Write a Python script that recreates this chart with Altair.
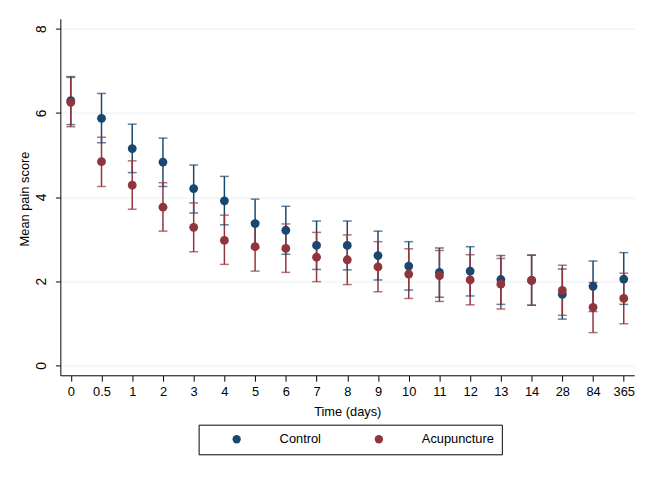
import altair as alt
import pandas as pd

times = ["0", "0.5", "1", "2", "3", "4", "5", "6", "7", "8", "9", "10",
         "11", "12", "13", "14", "28", "84", "365"]

control_mean = [6.29, 5.87, 5.15, 4.83, 4.20, 3.91, 3.37, 3.21, 2.85, 2.85,
                2.61, 2.36, 2.21, 2.24, 2.04, 2.02, 1.69, 1.88, 2.05]
control_lo = [5.72, 5.29, 4.58, 4.25, 3.62, 3.34, 2.79, 2.64, 2.28, 2.27,
              2.03, 1.79, 1.62, 1.65, 1.45, 1.43, 1.10, 1.28, 1.45]
control_hi = [6.86, 6.46, 5.73, 5.40, 4.76, 4.49, 3.95, 3.78, 3.43, 3.43,
              3.19, 2.94, 2.79, 2.82, 2.61, 2.62, 2.29, 2.48, 2.68]

acup_mean = [6.25, 4.84, 4.28, 3.76, 3.28, 2.97, 2.82, 2.78, 2.57, 2.51,
             2.34, 2.17, 2.13, 2.03, 1.93, 2.02, 1.78, 1.38, 1.59]
acup_lo = [5.67, 4.25, 3.71, 3.19, 2.70, 2.40, 2.24, 2.21, 1.99, 1.92,
           1.75, 1.59, 1.52, 1.44, 1.34, 1.43, 1.19, 0.78, 0.99]
acup_hi = [6.84, 5.42, 4.86, 4.34, 3.86, 3.57, 3.40, 3.36, 3.16, 3.10,
           2.94, 2.77, 2.73, 2.63, 2.54, 2.62, 2.38, 1.97, 2.19]

groups = ["Control", "Acupuncture"]
colors = ["#1a476f", "#90353b"]

rows = []
for g, m, lo, hi in [("Control", control_mean, control_lo, control_hi),
                     ("Acupuncture", acup_mean, acup_lo, acup_hi)]:
    for i, t in enumerate(times):
        rows.append({"group": g, "time": t, "mean": m[i], "lo": lo[i], "hi": hi[i],
                     "order": groups.index(g)})
df = pd.DataFrame(rows)

FONT = "Liberation Sans"

xenc = alt.X("time:N", sort=times,
             scale=alt.Scale(type="point", padding=0.34),
             axis=alt.Axis(title="Time (days)", labelAngle=0, grid=False,
                           tickSize=6, labelPadding=4, titleY=41,
                           titleBaseline="alphabetic"))
yscale = alt.Scale(domain=[-0.2346, 8.2346], nice=False, zero=False)
yaxis = alt.Axis(title="Mean pain score", values=[0, 2, 4, 6, 8], grid=True,
                 tickSize=5, labelAngle=270, labelAlign="center",
                 labelBaseline="alphabetic", labelPadding=10, labelFontSize=14,
                 titleAngle=270, titleX=-32, titleY=182, titleAlign="center",
                 titleBaseline="alphabetic")
cscale = alt.Scale(domain=groups, range=colors)

base = alt.Chart(df)

rules = base.mark_rule(strokeWidth=1.5).encode(
    x=xenc,
    y=alt.Y("lo:Q", scale=yscale, axis=yaxis),
    y2="hi:Q",
    color=alt.Color("group:N", scale=cscale, legend=None),
)
caps_lo = base.mark_tick(size=9, thickness=1.5).encode(
    x=xenc,
    y=alt.Y("lo:Q", scale=yscale),
    color=alt.Color("group:N", scale=cscale, legend=None),
)
caps_hi = base.mark_tick(size=9, thickness=1.5).encode(
    x=xenc,
    y=alt.Y("hi:Q", scale=yscale),
    color=alt.Color("group:N", scale=cscale, legend=None),
)
points = base.mark_point(filled=True, size=80, opacity=1, shape="circle").encode(
    x=xenc,
    y=alt.Y("mean:Q", scale=yscale),
    color=alt.Color("group:N", scale=cscale,
                    legend=alt.Legend(title=None, orient="none", legendX=140,
                                      legendY=411, direction="horizontal",
                                      strokeColor="black", padding=8,
                                      symbolOffset=24, labelOffset=37,
                                      columnPadding=28, symbolSize=70,
                                      symbolType="circle", symbolStrokeWidth=0,
                                      labelFontSize=13, labelFont=FONT,
                                      labelColor="black")),
    order="order:Q",
)

chart = alt.layer(rules, caps_lo, caps_hi, points).resolve_legend(
    color="independent"
).properties(
    width=581, height=361,
    autosize=alt.AutoSizeParams(type="none"),
    padding={"left": 53, "top": 8, "right": 16, "bottom": 93},
).configure_view(stroke=None).configure_axis(
    labelFont=FONT, titleFont=FONT, labelFontSize=13, titleFontSize=13,
    labelColor="black", titleColor="black", titleFontWeight="normal",
    domainColor="black", tickColor="black", domainWidth=1, tickWidth=1,
    gridColor="#e8f0f2", gridWidth=1,
)

chart.save("out.html", embed_options={"renderer": "svg", "actions": False})
